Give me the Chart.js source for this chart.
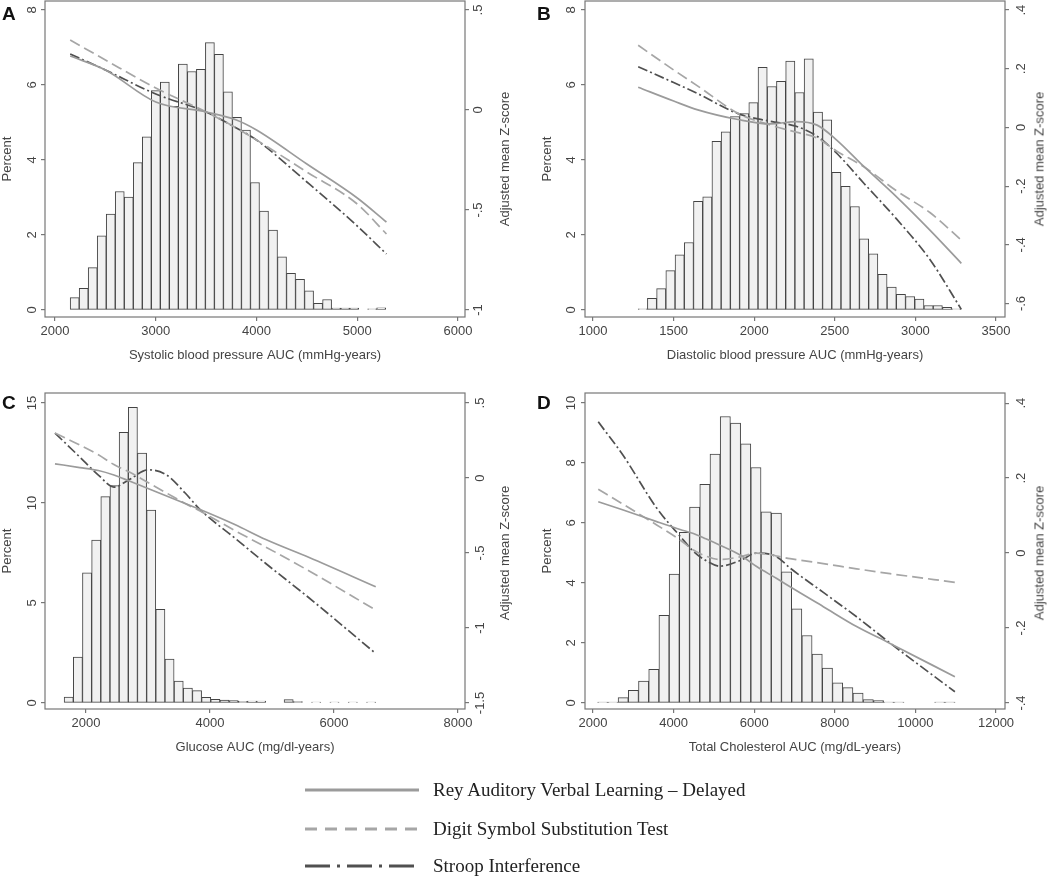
<!DOCTYPE html>
<html>
<head>
<meta charset="utf-8">
<script src="https://cdn.jsdelivr.net/npm/chart.js@4.4.1/dist/chart.umd.min.js"></script>
<style>
  body { margin: 0; background: #fff; width: 1050px; height: 876px; position: relative; overflow: hidden;
         font-family: "Liberation Sans", Arial, sans-serif; }
  .panel { position: absolute; width: 525px; height: 392px; }
  .panel canvas { position: absolute; left: 0; top: 0; }
  .letter { position: absolute; font-weight: bold; font-size: 19px; line-height: 19px; color: #111; }
  .ztitle { position: absolute; font-size: 13px; line-height: 15px; color: #444; white-space: nowrap;
            transform: translate(-50%, -50%) rotate(-90deg); }
  .legend { position: absolute; left: 305px; top: 770px; font-family: "Liberation Serif", "Times New Roman", serif;
            font-size: 19px; color: #222; }
  .row { position: absolute; left: 0; height: 24px; display: flex; align-items: center; white-space: nowrap; }
  .row svg { margin-right: 14px; }
</style>
</head>
<body>
<div class="panel" style="left:0;top:0"><canvas id="chartA" width="525" height="392"></canvas>
  <div class="letter" style="left:2px;top:4px">A</div>
  <div class="ztitle" style="left:504px;top:159px">Adjusted mean Z-score</div></div>
<div class="panel" style="left:525px;top:0"><canvas id="chartB" width="525" height="392"></canvas>
  <div class="letter" style="left:12px;top:4px">B</div>
  <div class="ztitle" style="left:514px;top:159px">Adjusted mean Z-score</div></div>
<div class="panel" style="left:0;top:392px"><canvas id="chartC" width="525" height="392"></canvas>
  <div class="letter" style="left:2px;top:1px">C</div>
  <div class="ztitle" style="left:504px;top:161px">Adjusted mean Z-score</div></div>
<div class="panel" style="left:525px;top:392px"><canvas id="chartD" width="525" height="392"></canvas>
  <div class="letter" style="left:12px;top:1px">D</div>
  <div class="ztitle" style="left:514px;top:161px">Adjusted mean Z-score</div></div>
<div class="legend" id="legend"></div>

<script>
// series shown in every panel
const seriesNames = ["Rey Auditory Verbal Learning \u2013 Delayed", "Digit Symbol Substitution Test", "Stroop Interference"];

// A: systolic blood pressure
const sbpBinStart = 2150, sbpBinWidth = 89.5;
const sbpPercent = [0.33, 0.58, 1.13, 1.98, 2.56, 3.16, 3.01, 3.93, 4.62, 5.85,
  6.08, 5.43, 6.56, 6.36, 6.42, 7.13, 6.82, 5.82, 5.14, 4.80,
  3.40, 2.64, 2.13, 1.42, 0.98, 0.82, 0.51, 0.18, 0.28, 0.05, 0.05, 0.05, 0, 0.03, 0.06];
const sbpLineX = [2150, 2500, 3000, 3500, 3800, 4000, 4500, 5000, 5290];
const sbpRey = [0.27, 0.20, 0.04, -0.01, -0.05, -0.10, -0.27, -0.44, -0.56];
const sbpDigit = [0.35, 0.25, 0.11, -0.01, -0.09, -0.15, -0.31, -0.47, -0.62];
const sbpStroop = [0.28, 0.20, 0.08, -0.01, -0.09, -0.15, -0.36, -0.58, -0.72];
const sbpXTicks = [2000, 3000, 4000, 5000, 6000];
const sbpPctTicks = [0, 2, 4, 6, 8];
const sbpZTicks = [-1, -0.5, 0, 0.5];

// B: diastolic blood pressure
const dbpBinStart = 1280, dbpBinWidth = 57.2;
const dbpPercent = [0.03, 0.31, 0.57, 1.05, 1.47, 1.80, 2.90, 3.02, 4.50, 4.75,
  5.16, 5.24, 5.53, 6.47, 5.96, 6.10, 6.64, 5.80, 6.70, 5.28,
  5.07, 3.67, 3.30, 2.76, 1.90, 1.50, 0.95, 0.61, 0.42, 0.36, 0.29, 0.12, 0.12, 0.07, 0.03];
const dbpLineX = [1280, 1500, 1650, 1900, 2100, 2260, 2390, 2510, 2680, 2880, 3090, 3285];
const dbpRey = [0.137, 0.09, 0.06, 0.027, 0.012, 0.02, 0.008, -0.042, -0.133, -0.235, -0.35, -0.463];
const dbpDigit = [0.28, 0.196, 0.141, 0.048, 0.008, -0.016, -0.036, -0.08, -0.134, -0.215, -0.29, -0.384];
const dbpStroop = [0.207, 0.153, 0.115, 0.047, 0.021, 0.004, -0.03, -0.087, -0.19, -0.31, -0.45, -0.62];
const dbpXTicks = [1000, 1500, 2000, 2500, 3000, 3500];
const dbpPctTicks = [0, 2, 4, 6, 8];
const dbpZTicks = [-0.6, -0.4, -0.2, 0, 0.2, 0.4];

// C: glucose
const gluBinStart = 1500, gluBinWidth = 147.8;
const gluPercent = [0.03, 0.30, 2.30, 6.51, 8.15, 10.32, 10.87, 13.53, 14.78, 12.49,
  9.65, 4.68, 2.19, 1.09, 0.75, 0.62, 0.28, 0.18, 0.15, 0.12,
  0.08, 0.10, 0.10, 0, 0.03, 0.17, 0.07, 0, 0.04, 0, 0.04, 0, 0.04, 0, 0.04];
const gluLineX = [1500, 1900, 2200, 2450, 2700, 3000, 3300, 3600, 3840, 4400, 4900, 5600, 6673];
const gluRey = [0.095, 0.07, 0.05, 0.02, -0.02, -0.07, -0.12, -0.17, -0.21, -0.31, -0.41, -0.53, -0.725];
const gluDigit = [0.30, 0.22, 0.155, 0.09, 0.04, -0.03, -0.10, -0.17, -0.22, -0.35, -0.46, -0.62, -0.88];
const gluStroop = [0.30, 0.14, 0.02, -0.06, -0.01, 0.055, 0.02, -0.10, -0.21, -0.40, -0.57, -0.80, -1.17];
const gluXTicks = [2000, 4000, 6000, 8000];
const gluPctTicks = [0, 5, 10, 15];
const gluZTicks = [-1.5, -1, -0.5, 0, 0.5];

// D: total cholesterol
const cholBinStart = 2115, cholBinWidth = 253.4;
const cholPercent = [0.03, 0.03, 0.18, 0.42, 0.73, 1.12, 2.92, 4.30, 5.69, 6.53,
  7.29, 8.30, 9.55, 9.33, 8.64, 7.85, 6.37, 6.33, 4.37, 3.14,
  2.25, 1.63, 1.16, 0.67, 0.51, 0.33, 0.11, 0.08, 0.03, 0.03, 0, 0, 0, 0.03, 0.03];
const cholLineX = [2130, 2750, 3580, 4160, 4490, 4800, 5150, 5650, 6060, 6560, 6890, 7715, 8540, 9370, 10980];
const cholRey = [0.137, 0.115, 0.084, 0.063, 0.052, 0.038, 0.021, -0.005, -0.036, -0.068, -0.09, -0.143, -0.196, -0.241, -0.33];
const cholDigit = [0.17, 0.13, 0.075, 0.035, 0.008, -0.008, -0.017, -0.01, 0.0, -0.008, -0.015, -0.028, -0.042, -0.055, -0.078];
const cholStroop = [0.35, 0.26, 0.12, 0.045, 0.005, -0.02, -0.035, -0.02, 0.0, -0.01, -0.04, -0.105, -0.17, -0.24, -0.37];
const cholXTicks = [2000, 4000, 6000, 8000, 10000, 12000];
const cholPctTicks = [0, 2, 4, 6, 8, 10];
const cholZTicks = [-0.4, -0.2, 0, 0.2, 0.4];

const lineColors = ["#9b9b9b", "#a6a6a6", "#505050"];
const lineDashes = [[], [11, 5], [10, 3, 2, 3]];
const legendDashes = ["", "12 8", "25 7 3 7"];

Chart.defaults.font.family = '"Liberation Sans", Arial, sans-serif';
Chart.defaults.font.size = 13;
Chart.defaults.color = "#444";

// stata style labels: .5, -.5
function fmt(v) {
  return String(+v.toFixed(2)).replace(/^(-?)0\./, "$1.");
}
function histPoints(start, width, pct) {
  return pct.map((p, i) => ({ x: start + width * (i + 0.5), y: p }));
}
function linePoints(xs, ys) {
  return xs.map((x, i) => ({ x: x, y: ys[i] }));
}
const fixTicks = vals => scale => { scale.ticks = vals.map(v => ({ value: v })); };
// fixed axis size, and no extra room asked for overhanging labels
const fitTo = (prop, size) => s => {
  s[prop] = size;
  s.paddingTop = 0; s.paddingBottom = 0; s.paddingLeft = 0; s.paddingRight = 0;
};

const frame = {
  id: "frame",
  beforeDatasetsDraw(chart) {
    const a = chart.chartArea, ctx = chart.ctx;
    ctx.save();
    ctx.strokeStyle = "#777";
    ctx.lineWidth = 1.2;
    ctx.strokeRect(a.left, a.top, a.right - a.left, a.bottom - a.top);
    ctx.restore();
  }
};

function drawPanel(id, p) {
  const series = [p.rey, p.digit, p.stroop].map((ys, i) => ({
    type: "line",
    label: seriesNames[i],
    data: linePoints(p.lineX, ys),
    yAxisID: "y2",
    borderColor: lineColors[i],
    borderWidth: 1.7,
    borderDash: lineDashes[i],
    pointRadius: 0,
    cubicInterpolationMode: "monotone",
    order: 0
  }));
  const grid = { drawOnChartArea: false, offset: false, tickLength: 4, color: "#777", lineWidth: 1.2 };
  new Chart(document.getElementById(id), {
    type: "bar",
    data: {
      datasets: series.concat([{
        label: "Percent",
        data: histPoints(p.binStart, p.binWidth, p.pct),
        yAxisID: "y",
        backgroundColor: "#f1f1f1",
        borderColor: "#444",
        borderWidth: 1,
        borderSkipped: false,
        barPercentage: 1,
        categoryPercentage: 1,
        order: 1
      }])
    },
    options: {
      responsive: false,
      animation: false,
      events: [],
      layout: { padding: { top: 1, left: 0, right: 0, bottom: 0 } },
      plugins: { legend: { display: false }, tooltip: { enabled: false } },
      scales: {
        x: {
          type: "linear", position: "bottom", offset: false,
          min: p.xMin, max: p.xMax,
          afterBuildTicks: fixTicks(p.xTicks),
          afterFit: fitTo("height", 75),
          grid: grid, border: { display: false },
          ticks: { padding: 3, autoSkip: false, maxRotation: 0, callback: v => String(v) },
          title: { display: true, text: p.xTitle, padding: { top: 0, bottom: 29 } }
        },
        y: {
          type: "linear", position: "left",
          min: p.yMin, max: p.yMax,
          afterBuildTicks: fixTicks(p.pctTicks),
          afterFit: fitTo("width", p.left),
          grid: grid, border: { display: false },
          ticks: { minRotation: 90, maxRotation: 90, crossAlign: "center", padding: p.yPad, autoSkip: false, callback: fmt },
          title: { display: true, text: "Percent", padding: { top: p.titlePad, bottom: 0 } }
        },
        y2: {
          type: "linear", position: "right", axis: "y",
          min: p.zMin, max: p.zMax,
          afterBuildTicks: fixTicks(p.zTicks),
          afterFit: fitTo("width", 525 - p.right),
          grid: grid, border: { display: false },
          ticks: { minRotation: 90, maxRotation: 90, crossAlign: "center", padding: p.zPad, autoSkip: false, callback: fmt }
        }
      }
    },
    plugins: [frame]
  });
}

drawPanel("chartA", {
  binStart: sbpBinStart, binWidth: sbpBinWidth, pct: sbpPercent,
  lineX: sbpLineX, rey: sbpRey, digit: sbpDigit, stroop: sbpStroop,
  xTicks: sbpXTicks, pctTicks: sbpPctTicks, zTicks: sbpZTicks,
  xTitle: "Systolic blood pressure AUC (mmHg-years)",
  xMin: 1900, xMax: 6070, yMin: -0.187, yMax: 8.24, zMin: -1.035, zMax: 0.545,
  left: 45, right: 465, yPad: 5.4, zPad: 1.4, titlePad: 0
});
drawPanel("chartB", {
  binStart: dbpBinStart, binWidth: dbpBinWidth, pct: dbpPercent,
  lineX: dbpLineX, rey: dbpRey, digit: dbpDigit, stroop: dbpStroop,
  xTicks: dbpXTicks, pctTicks: dbpPctTicks, zTicks: dbpZTicks,
  xTitle: "Diastolic blood pressure AUC (mmHg-years)",
  xMin: 950, xMax: 3556, yMin: -0.187, yMax: 8.24, zMin: -0.646, zMax: 0.431,
  left: 60, right: 480, yPad: 5.8, zPad: 4.4, titlePad: 15
});
drawPanel("chartC", {
  binStart: gluBinStart, binWidth: gluBinWidth, pct: gluPercent,
  lineX: gluLineX, rey: gluRey, digit: gluDigit, stroop: gluStroop,
  xTicks: gluXTicks, pctTicks: gluPctTicks, zTicks: gluZTicks,
  xTitle: "Glucose AUC (mg/dl-years)",
  xMin: 1339, xMax: 8113, yMin: -0.3, yMax: 15.5, zMin: -1.54, zMax: 0.567,
  left: 45, right: 465, yPad: 1.8, zPad: 0, titlePad: 0
});
drawPanel("chartD", {
  binStart: cholBinStart, binWidth: cholBinWidth, pct: cholPercent,
  lineX: cholLineX, rey: cholRey, digit: cholDigit, stroop: cholStroop,
  xTicks: cholXTicks, pctTicks: cholPctTicks, zTicks: cholZTicks,
  xTitle: "Total Cholesterol AUC (mg/dL-years)",
  xMin: 1801, xMax: 12223, yMin: -0.2, yMax: 10.333, zMin: -0.416, zMax: 0.427,
  left: 60, right: 480, yPad: 2.8, zPad: 4.4, titlePad: 15
});

// legend below the panels
const legend = document.getElementById("legend");
const legendRowTops = [8, 47, 84];
seriesNames.forEach((name, i) => {
  const row = document.createElement("div");
  row.className = "row";
  row.style.top = legendRowTops[i] + "px";
  row.innerHTML = '<svg width="114" height="6"><line x1="0" y1="3" x2="114" y2="3" stroke="' + lineColors[i] +
    '" stroke-width="3" stroke-dasharray="' + legendDashes[i] + '"/></svg>';
  const label = document.createElement("span");
  label.textContent = name;
  row.appendChild(label);
  legend.appendChild(row);
});
</script>
</body>
</html>
